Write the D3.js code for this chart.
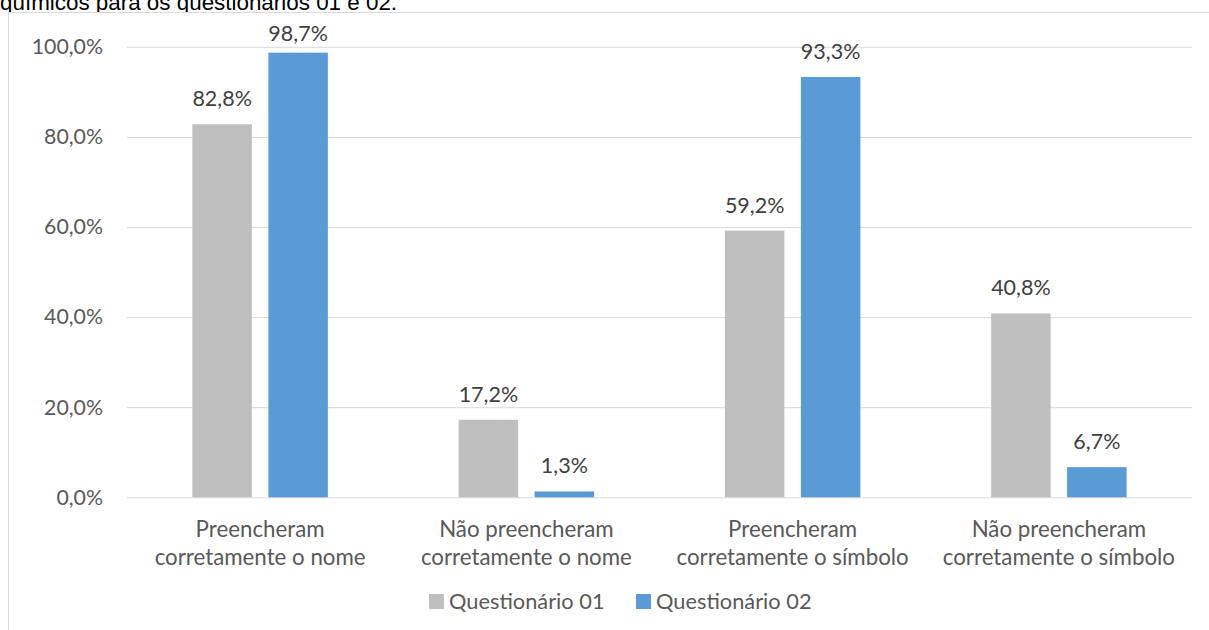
<!DOCTYPE html>
<html>
<head>
<meta charset="utf-8">
<script src="https://cdn.jsdelivr.net/npm/d3@7"></script>
<style>
  html, body { margin: 0; padding: 0; background: #fff; }
  svg { display: block; }
</style>
</head>
<body>
<svg id="chart" width="1209" height="630"></svg>
<script>
// Categories (two-line labels) and series
const categories = [
  ["Preencheram", "corretamente o nome"],
  ["Não preencheram", "corretamente o nome"],
  ["Preencheram", "corretamente o símbolo"],
  ["Não preencheram", "corretamente o símbolo"]
];
const seriesNames = ["Questionário 01", "Questionário 02"];
const questionario01 = [82.8, 17.2, 59.2, 40.8];
const questionario02 = [98.7, 1.3, 93.3, 6.7];
const yTicks = [0, 20, 40, 60, 80, 100];
const seriesColors = ["#bfbfbf", "#5b9bd5"];

const svg = d3.select("#chart");
const W = 1209, H = 630;
const font = "Lato, 'Open Sans', sans-serif";
const fmt = v => d3.format(".1f")(v).replace(".", ",") + "%";

// Caption line above the chart frame
svg.append("text")
  .attr("x", 0).attr("y", 10)
  .attr("font-family", "'Liberation Sans', Arial, sans-serif")
  .attr("font-size", 22.4)
  .attr("fill", "#000")
  .text("químicos para os questionários 01 e 02.");

// Chart frame
svg.append("rect")
  .attr("x", 8.5).attr("y", 12.5)
  .attr("width", W + 10).attr("height", H + 10)
  .attr("fill", "#fff")
  .attr("stroke", "#d9d9d9").attr("stroke-width", 1);

const plot = { left: 127, right: 1192, top: 46.8, bottom: 497.3 };

const y = d3.scaleLinear().domain([0, 100]).range([plot.bottom, plot.top]);
const x0 = d3.scaleBand().domain(d3.range(categories.length))
  .range([plot.left, plot.right]).padding(0);
const groupW = 135.5;
const x1 = d3.scaleBand().domain(d3.range(seriesNames.length))
  .range([0, groupW]).paddingInner(0.217).paddingOuter(0);

// Gridlines + y tick labels via axis
const yAxis = d3.axisLeft(y).tickValues(yTicks)
  .tickSize(-(plot.right - plot.left)).tickPadding(24)
  .tickFormat(fmt);
const gy = svg.append("g")
  .attr("transform", `translate(${plot.left},0)`)
  .call(yAxis);
gy.select(".domain").remove();
gy.selectAll(".tick line").attr("stroke", "#d9d9d9").attr("stroke-width", 1);
gy.selectAll(".tick text")
  .attr("font-family", font).attr("font-size", 21.3).attr("fill", "#595959");

// Bars
const rows = categories.map((c, i) => ({ i, vals: [questionario01[i], questionario02[i]] }));
const groups = svg.append("g").selectAll("g").data(rows).join("g")
  .attr("transform", d => `translate(${x0(d.i) + x0.bandwidth() / 2 - groupW / 2},0)`);

groups.selectAll("rect").data(d => d.vals.map((v, s) => ({ v, s }))).join("rect")
  .attr("x", d => x1(d.s))
  .attr("width", x1.bandwidth())
  .attr("y", d => y(d.v))
  .attr("height", d => y(0) - y(d.v))
  .attr("fill", d => seriesColors[d.s]);

// Value labels (kept inside the frame near the top)
groups.selectAll("text").data(d => d.vals.map((v, s) => ({ v, s }))).join("text")
  .attr("x", d => x1(d.s) + x1.bandwidth() / 2)
  .attr("y", d => Math.max(y(d.v) - 18, 40.7))
  .attr("text-anchor", "middle")
  .attr("font-family", font).attr("font-size", 21.5).attr("fill", "#404040")
  .text(d => fmt(d.v));

// Category labels
const cat = svg.append("g").selectAll("text").data(categories).join("text")
  .attr("x", (d, i) => x0(i) + x0.bandwidth() / 2)
  .attr("y", 537)
  .attr("text-anchor", "middle")
  .attr("font-family", font).attr("font-size", 22.3).attr("fill", "#595959");
cat.selectAll("tspan").data(d => d).join("tspan")
  .attr("x", function () { return this.parentNode.getAttribute("x"); })
  .attr("dy", (d, j) => j === 0 ? 0 : 28)
  .text(d => d);

// Legend
const legend = svg.append("g");
const legendX = [429, 636];
seriesNames.forEach((name, s) => {
  legend.append("rect")
    .attr("x", legendX[s]).attr("y", 594).attr("width", 15).attr("height", 15)
    .attr("fill", seriesColors[s]);
  legend.append("text")
    .attr("x", legendX[s] + 20).attr("y", 609)
    .attr("font-family", font).attr("font-size", 21.8).attr("fill", "#595959")
    .text(name);
});
</script>
</body>
</html>
